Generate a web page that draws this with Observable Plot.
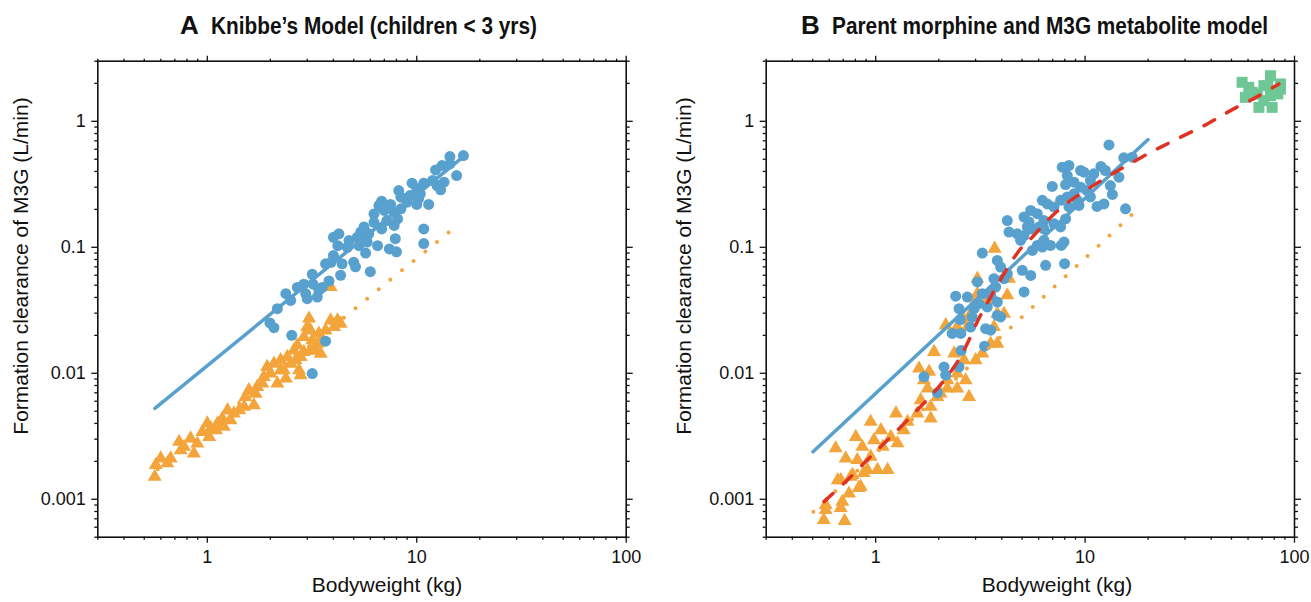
<!DOCTYPE html>
<html><head><meta charset="utf-8">
<script src="https://cdn.jsdelivr.net/npm/d3@7"></script>
<script src="https://cdn.jsdelivr.net/npm/@observablehq/plot@0.6"></script>
<style>
body{margin:0;background:#fff;font-family:"Liberation Sans",Arial,Helvetica,sans-serif;color:#111;}
#wrap{position:relative;width:1311px;height:602px;overflow:hidden;background:#fff;}
.panel{position:absolute;top:0;}
.title{position:absolute;top:10px;white-space:nowrap;font-weight:bold;line-height:30px;}
.title .big{font-size:26px;margin-right:12px;display:inline-block;vertical-align:baseline;}
.title .rest{font-size:23px;display:inline-block;transform:scaleX(0.905);transform-origin:0 50%;vertical-align:baseline;}
.ylab{position:absolute;white-space:nowrap;font-size:21px;transform:translate(-50%,-50%) rotate(-90deg);}
.xlab{position:absolute;white-space:nowrap;font-size:21px;transform:translate(-50%,-50%);}
</style></head>
<body><div id="wrap"></div>
<script>
// ---------- axis ticks ----------
const xMajor = [1, 10, 100];
const xMajorLabels = ["1", "10", "100"];
const xMinor = [0.3,0.4,0.5,0.6,0.7,0.8,0.9,2,3,4,5,6,7,8,9,20,30,40,50,60,70,80,90];
const yMajor = [0.001, 0.01, 0.1, 1];
const yMajorLabels = ["0.001", "0.01", "0.1", "1"];
const yMinor = [0.0005,0.0006,0.0007,0.0008,0.0009,0.002,0.003,0.004,0.005,0.006,0.007,0.008,0.009,
  0.02,0.03,0.04,0.05,0.06,0.07,0.08,0.09,0.2,0.3,0.4,0.5,0.6,0.7,0.8,0.9,2,3];

const titleA = "Knibbe’s Model (children < 3 yrs)";
const titleB = "Parent morphine and M3G metabolite model";
const xTitle = "Bodyweight (kg)";
const yTitle = "Formation clearance of M3G (L/min)";

// ---------- Panel A data ----------
const blueA_weight = [16.7,14.4,14.4,13.2,12.3,15.5,11.9,10.8,9.5,13.5,13.0,10.0,10.4,8.2,8.4,9.3,6.8,7.5,11.4,10.0,
  8.4,7.8,6.25,7.0,8.1,7.2,6.25,7.8,6.8,5.6,5.4,5.9,5.2,4.25,6.5,5.8,4.75,4.66,4.2,7.9,
  10.8,10.8,7.4,8.0,5.7,5.0,5.1,6.0,4.33,4.0,3.9,3.67,4.4,3.17,3.2,3.54,3.41,3.81,2.89,2.69,
  2.95,3.0,3.35,2.5,2.37,2.16,1.99,2.08,2.53,3.67,3.17,6.6,9.0,5.3,4.0,10.2,12.5];
const blueA_clearance = [0.535,0.525,0.459,0.445,0.411,0.371,0.339,0.323,0.323,0.329,0.286,0.291,0.266,0.282,0.250,0.258,0.232,0.219,0.219,0.219,
  0.202,0.190,0.184,0.196,0.168,0.163,0.158,0.149,0.140,0.145,0.132,0.128,0.120,0.128,0.103,0.110,0.113,0.100,0.103,0.117,
  0.140,0.107,0.097,0.092,0.090,0.076,0.070,0.064,0.060,0.086,0.076,0.074,0.074,0.061,0.051,0.048,0.0455,0.054,0.051,0.048,
  0.0428,0.0391,0.0403,0.0379,0.0428,0.0326,0.0251,0.0230,0.020,0.018,0.00995,0.215,0.228,0.103,0.120,0.243,0.309];

const orangeA_weight = [0.561,0.567,0.599,0.668,0.733,0.832,0.863,0.746,0.947,1.02,1.04,1.12,1.18,1.20,1.25,1.34,1.50,1.67,1.58,1.70,
  1.83,1.93,2.16,2.08,2.24,2.37,2.50,2.64,2.74,2.79,2.89,3.11,3.06,3.11,3.41,3.67,3.88,4.03,4.33,3.35,
  3.48,2.79,2.59,1.86,1.73,1.52,1.42,1.10,0.896,0.774,1.0,2.24,2.41,2.69,2.89,3.17,3.0,3.29,2.0,2.32,
  3.88,4.18,3.54,1.29,0.644];
const orangeA_clearance = [0.00151,0.00187,0.00211,0.00211,0.00286,0.00304,0.00231,0.00245,0.00343,0.00313,0.00365,0.0040,0.00438,0.00376,0.0051,0.0048,0.00542,0.00558,0.00734,0.0069,
  0.0083,0.01124,0.0083,0.01194,0.01057,0.00908,0.01194,0.0127,0.01057,0.00966,0.0148,0.0152,0.0272,0.0219,0.0207,0.0219,0.0263,0.0233,0.0248,0.0172,
  0.0143,0.0135,0.0152,0.00936,0.0078,0.0065,0.0051,0.00354,0.00277,0.00261,0.0040,0.0127,0.0135,0.0167,0.0194,0.0183,0.0233,0.0152,0.00995,0.01057,
  0.0484,0.0263,0.0183,0.00425,0.00193];

const lineBlueA_weight = [0.562, 16.2];
const lineBlueA_clearance = [0.00526, 0.503];
const lineOrangeA_weight = [0.58, 14.8];
const lineOrangeA_clearance = [0.00173, 0.139];

// ---------- Panel B data ----------
const blueB_weight = [13.0,15.3,16.8,11.9,14.5,13.2,13.5,12.3,11.4,15.6,7.78,8.37,9.52,9.87,11.0,12.5,6.97,8.07,8.85,9.52,
  10.2,10.6,9.18,8.22,7.64,6.25,6.6,7.1,8.37,9.35,8.85,5.50,5.11,5.91,5.40,6.36,7.1,7.64,8.07,4.25,
  4.33,4.74,5.11,5.50,6.02,6.36,5.91,5.60,6.25,6.84,7.93,7.69,7.98,6.48,5.01,5.50,3.23,3.81,3.95,4.25,
  4.10,3.67,3.74,3.54,3.81,3.06,3.23,2.74,2.41,3.11,2.95,2.50,3.41,3.81,3.95,2.89,2.53,2.84,3.35,3.54,
  2.32,2.55,5.11,3.31,2.56,2.50,2.12,2.16,1.70,1.97,5.30,4.92,6.36,8.22,10.6];
const blueB_clearance = [0.650,0.513,0.519,0.438,0.360,0.309,0.263,0.221,0.211,0.202,0.432,0.446,0.407,0.395,0.383,0.407,0.304,0.315,0.329,0.300,
  0.283,0.251,0.236,0.251,0.236,0.236,0.221,0.209,0.209,0.215,0.266,0.196,0.174,0.185,0.159,0.163,0.154,0.145,0.168,0.163,
  0.132,0.128,0.124,0.140,0.145,0.1135,0.1035,0.0944,0.1004,0.1035,0.110,0.1035,0.0741,0.0719,0.0656,0.0598,0.090,0.0787,0.0697,0.0617,
  0.0564,0.0564,0.0484,0.0416,0.0368,0.0531,0.0428,0.0403,0.0409,0.0357,0.0326,0.0326,0.0336,0.0288,0.0280,0.0280,0.0267,0.0233,0.0226,0.0220,
  0.0207,0.0207,0.0442,0.0164,0.0152,0.01124,0.01124,0.00966,0.00938,0.0070,0.145,0.1135,0.140,0.371,0.339];

const orangeB_weight = [0.577,0.681,0.565,0.711,0.659,0.776,0.830,0.877,
  3.70,3.06,4.33,4.25,3.54,2.16,3.81,4.10,2.95,3.41,2.84,2.64,2.74,2.45,3.67,3.81,3.54,3.23,3.0,2.37,2.64,1.90,
  2.45,2.20,2.69,1.70,1.61,1.80,1.77,2.20,2.45,1.97,2.79,1.64,1.83,1.58,1.83,1.42,1.25,0.946,1.06,1.18,
  0.982,0.803,0.863,1.08,1.14,0.946,0.817,0.719,0.644,0.681,0.760,0.848,0.746,1.02,1.36,1.27,0.693,0.577,2.04,3.06,0.912];
const orangeB_clearance = [0.000822,0.000853,0.000686,0.000673,0.00142,0.00156,0.00123,0.00162,
  0.0975,0.0564,0.0564,0.0416,0.0428,0.0241,0.0297,0.0297,0.0357,0.0380,0.0297,0.0263,0.0233,0.0233,0.0233,0.0172,0.0172,0.0144,0.0127,0.0144,0.0127,0.0148,
  0.00995,0.00881,0.00881,0.00881,0.0109,0.0103,0.00757,0.00757,0.00757,0.0065,0.0065,0.00612,0.00542,0.0048,0.00438,0.00412,0.0048,0.00412,0.00354,0.00313,
  0.00295,0.00313,0.00261,0.00261,0.00171,0.00218,0.00205,0.00211,0.00254,0.00142,0.00151,0.00126,0.00111,0.00171,0.00354,0.00278,0.000958,0.000902,0.00692,0.0428,0.00171];

const greenB_weight = [56.2,76.8,85.7,71.4,62.8,58.3,66.4,76.8,83.2,67.6,78.2,74.6,85.7,60.5,71.4];
const greenB_clearance = [2.04,2.30,1.98,1.92,1.70,1.55,1.65,1.60,1.65,1.29,1.29,1.92,1.80,1.86,1.46];

const lineBlueB_weight = [0.502, 20.0];
const lineBlueB_clearance = [0.00238, 0.716];
const lineOrangeB_weight = [0.504, 17.9];
const lineOrangeB_clearance = [0.000797, 0.202];
const lineRedB_weight = [0.567,0.719,0.946,1.18,1.55,1.97,2.37,2.69,3.11,3.54,4.10,4.92,5.60,6.6,7.93,9.5,12.3,15.3,20.6,27.5,38.3,49.5,66.4,84.2];
const lineRedB_clearance = [0.000958,0.00138,0.00218,0.00313,0.00495,0.00757,0.01125,0.0162,0.0272,0.0403,0.0617,0.0974,0.1205,0.163,0.215,0.266,0.349,0.432,0.568,0.725,0.953,1.216,1.57,1.98];

// ---------- styles ----------
const BLUE = "#58a0ce", ORANGE = "#f3a43b", GREEN = "#6fc796", RED = "#e03223", INK = "#111";
const xLabelOf = new Map(xMajor.map((v, i) => [v, xMajorLabels[i]]));
const yLabelOf = new Map(yMajor.map((v, i) => [v, yMajorLabels[i]]));

function frameAxes() {
  const blank = () => "";
  const common = {label: null, stroke: INK, strokeWidth: 1.3};
  return [
    Plot.axisX({...common, anchor: "bottom", ticks: xMajor, tickSize: 6, tickPadding: 7, fontSize: 18, tickFormat: d => xLabelOf.get(d)}),
    Plot.axisX({...common, anchor: "bottom", ticks: xMinor, tickSize: 3, tickFormat: blank}),
    Plot.axisX({...common, anchor: "top", ticks: xMajor, tickSize: 6, tickFormat: blank}),
    Plot.axisX({...common, anchor: "top", ticks: xMinor, tickSize: 3, tickFormat: blank}),
    Plot.axisY({...common, anchor: "left", ticks: yMajor, tickSize: 6, tickPadding: 6, fontSize: 18, tickFormat: d => yLabelOf.get(d)}),
    Plot.axisY({...common, anchor: "left", ticks: yMinor, tickSize: 3, tickFormat: blank}),
    Plot.axisY({...common, anchor: "right", ticks: yMajor, tickSize: 6, tickFormat: blank}),
    Plot.axisY({...common, anchor: "right", ticks: yMinor, tickSize: 3, tickFormat: blank}),
    Plot.frame({stroke: INK, strokeWidth: 1.6})
  ];
}

function makePlot(opts, marks) {
  return Plot.plot({
    width: opts.width, height: 602,
    marginLeft: opts.ml, marginRight: opts.mr, marginTop: 60.7, marginBottom: 65.3,
    x: {type: "log", domain: [0.3, 100]},
    y: {type: "log", domain: [0.0005, 3]},
    style: {fontFamily: '"Liberation Sans", Arial, sans-serif', fontSize: "18px", color: INK, background: "white", overflow: "visible"},
    marks: [...marks, ...frameAxes()]
  });
}

const plotA = makePlot({width: 655, ml: 97.3, mr: 29.3}, [
  Plot.dot(orangeA_weight, {x: orangeA_weight, y: orangeA_clearance, symbol: "triangle", r: 5.2, fill: ORANGE}),
  Plot.line(lineOrangeA_weight, {x: lineOrangeA_weight, y: lineOrangeA_clearance, stroke: ORANGE, strokeWidth: 4, strokeDasharray: "0 15", strokeLinecap: "round"}),
  Plot.dot(blueA_weight, {x: blueA_weight, y: blueA_clearance, r: 5.5, fill: BLUE}),
  Plot.line(lineBlueA_weight, {x: lineBlueA_weight, y: lineBlueA_clearance, stroke: BLUE, strokeWidth: 3.5, strokeLinecap: "round"})
]);

const plotB = makePlot({width: 656, ml: 110.7, mr: 17}, [
  Plot.dot(orangeB_weight, {x: orangeB_weight, y: orangeB_clearance, symbol: "triangle", r: 5.2, fill: ORANGE}),
  Plot.dot(blueB_weight, {x: blueB_weight, y: blueB_clearance, r: 5.5, fill: BLUE}),
  Plot.dot(greenB_weight, {x: greenB_weight, y: greenB_clearance, symbol: "square", r: 6.2, fill: GREEN}),
  Plot.line(lineBlueB_weight, {x: lineBlueB_weight, y: lineBlueB_clearance, stroke: BLUE, strokeWidth: 3.5, strokeLinecap: "round"}),
  Plot.line(lineOrangeB_weight, {x: lineOrangeB_weight, y: lineOrangeB_clearance, stroke: ORANGE, strokeWidth: 4, strokeDasharray: "0 15", strokeLinecap: "round"}),
  Plot.line(lineRedB_weight, {x: lineRedB_weight, y: lineRedB_clearance, stroke: RED, strokeWidth: 3.5, strokeDasharray: "12 14", curve: "catmull-rom"})
]);

const wrap = document.getElementById("wrap");
function place(el, left) { el.classList.add("panel"); el.style.left = left + "px"; wrap.appendChild(el); }
place(plotA, 0);
place(plotB, 655);

function addDiv(cls, html, css) {
  const d = document.createElement("div");
  d.className = cls; d.innerHTML = html; Object.assign(d.style, css); wrap.appendChild(d);
}
function esc(s) { return s.replace(/&/g, "&amp;").replace(/</g, "&lt;"); }
addDiv("title", `<span class="big">A</span><span class="rest">${esc(titleA)}</span>`, {left: "180px"});
addDiv("title", `<span class="big">B</span><span class="rest">${esc(titleB)}</span>`, {left: "801px"});
addDiv("ylab", esc(yTitle), {left: "21px", top: "266px"});
addDiv("ylab", esc(yTitle), {left: "684px", top: "266px"});
addDiv("xlab", esc(xTitle), {left: "387px", top: "585px"});
addDiv("xlab", esc(xTitle), {left: "1057px", top: "585px"});
</script>
</body></html>
